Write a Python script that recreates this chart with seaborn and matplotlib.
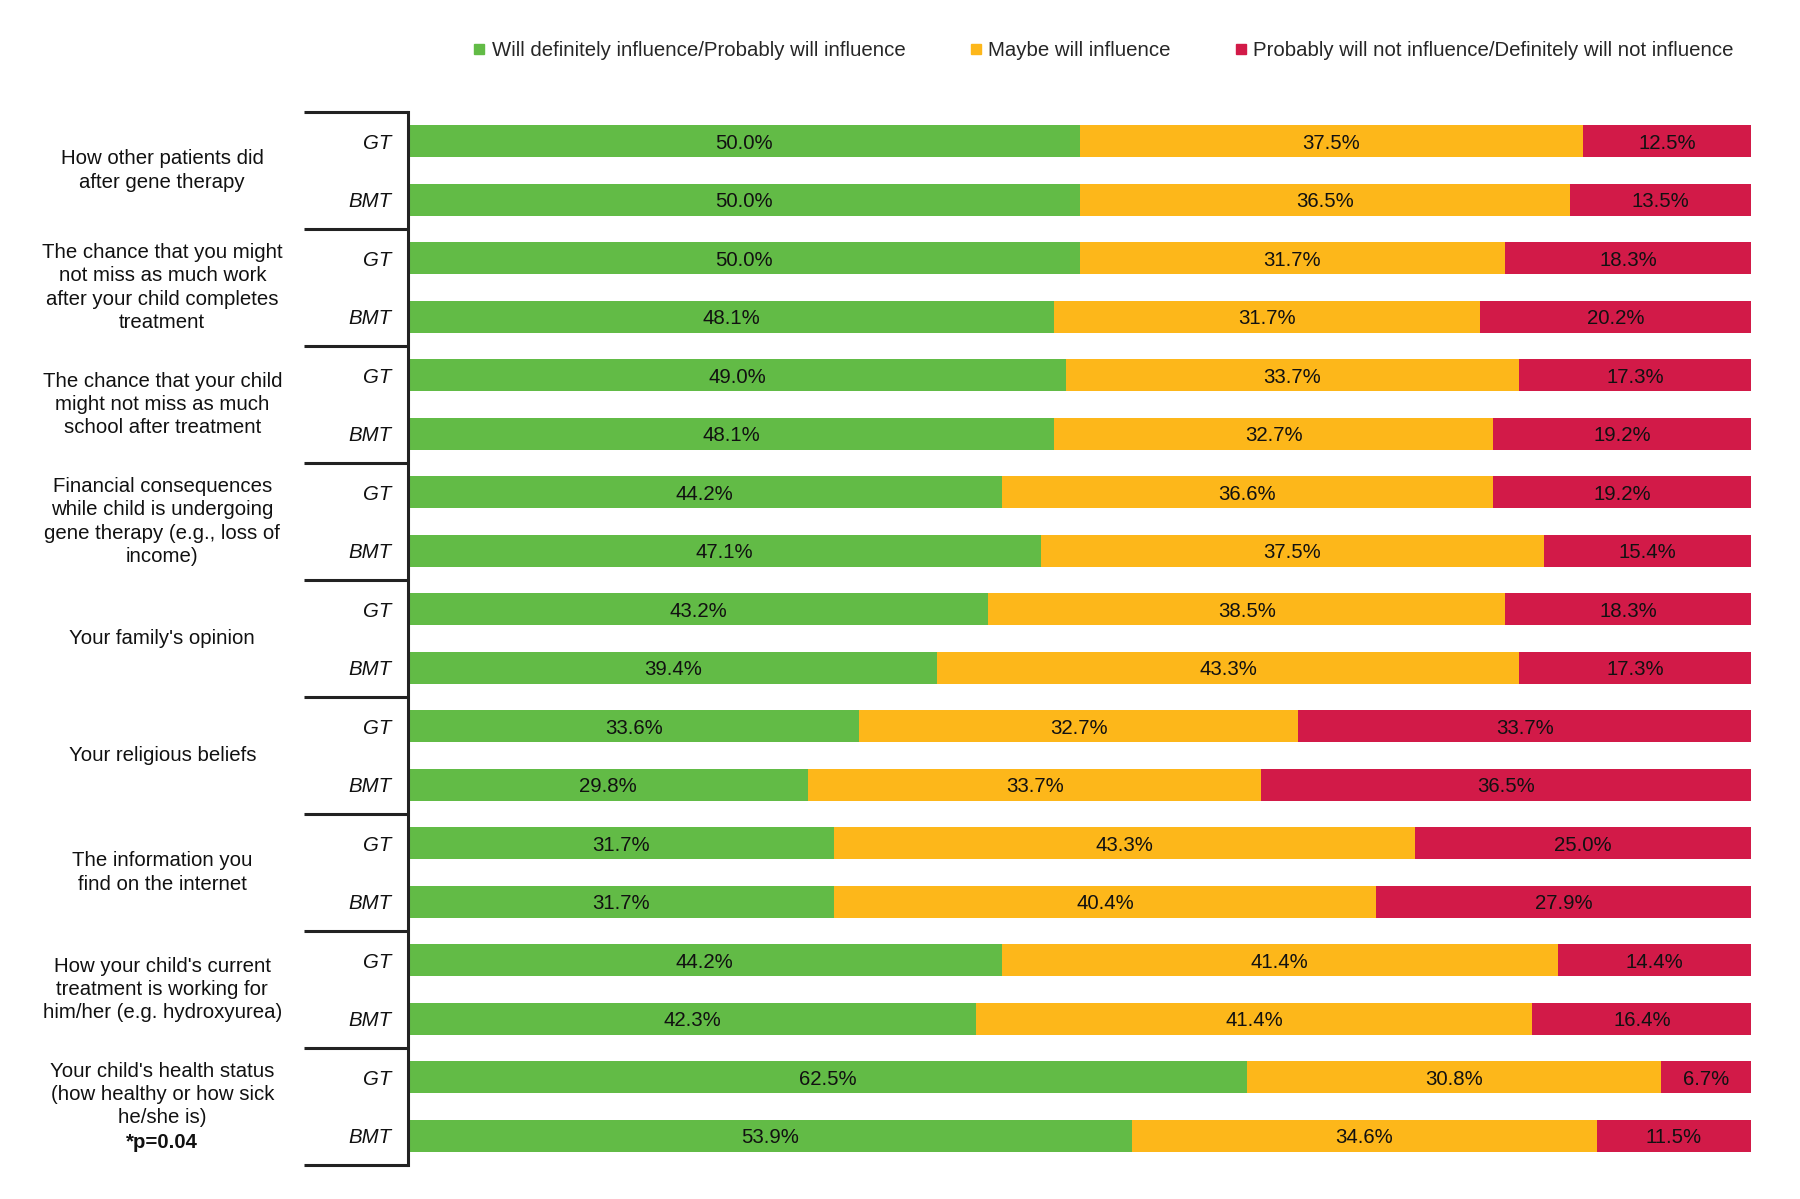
import pandas as pd
import matplotlib
matplotlib.use("Agg")
import matplotlib.pyplot as plt
import matplotlib.transforms as mtransforms
from matplotlib.lines import Line2D
import seaborn as sns

categories = [
    "How other patients did\nafter gene therapy",
    "The chance that you might\nnot miss as much work\nafter your child completes\ntreatment",
    "The chance that your child\nmight not miss as much\nschool after treatment",
    "Financial consequences\nwhile child is undergoing\ngene therapy (e.g., loss of\nincome)",
    "Your family's opinion",
    "Your religious beliefs",
    "The information you\nfind on the internet",
    "How your child's current\ntreatment is working for\nhim/her (e.g. hydroxyurea)",
    "Your child's health status\n(how healthy or how sick\nhe/she is)",
]
note_last = "*p=0.04"
treatments = ["GT", "BMT"]

will_gt = [50.0, 50.0, 49.0, 44.2, 43.2, 33.6, 31.7, 44.2, 62.5]
will_bmt = [50.0, 48.1, 48.1, 47.1, 39.4, 29.8, 31.7, 42.3, 53.9]
maybe_gt = [37.5, 31.7, 33.7, 36.6, 38.5, 32.7, 43.3, 41.4, 30.8]
maybe_bmt = [36.5, 31.7, 32.7, 37.5, 43.3, 33.7, 40.4, 41.4, 34.6]
not_gt = [12.5, 18.3, 17.3, 19.2, 18.3, 33.7, 25.0, 14.4, 6.7]
not_bmt = [13.5, 20.2, 19.2, 15.4, 17.3, 36.5, 27.9, 16.4, 11.5]

legend_labels = ["Will definitely influence/Probably will influence",
                 "Maybe will influence",
                 "Probably will not influence/Definitely will not influence"]
colors = ["#62BB46", "#FDB71A", "#D21A48"]

# long table, one row per bar
rows = []
for i, cat in enumerate(categories):
    for t, w, m, n in [("GT", will_gt[i], maybe_gt[i], not_gt[i]),
                       ("BMT", will_bmt[i], maybe_bmt[i], not_bmt[i])]:
        rows.append(dict(row=f"{i}_{t}", group=i, treatment=t, will=w, maybe=m, notinf=n))
df = pd.DataFrame(rows)
df["c1"] = df["will"]
df["c2"] = df["will"] + df["maybe"]
df["c3"] = df["c2"] + df["notinf"]
order = list(df["row"])

sns.set_theme(style="white")
plt.rcParams["font.family"] = ["Liberation Sans", "DejaVu Sans"]
FS = 14.7

fig = plt.figure(figsize=(18, 11.99), dpi=100)
ax = fig.add_axes([0.2267, 0.0284, 0.7461, 0.8782])

for col, c in zip(["c3", "c2", "c1"], colors[::-1]):
    sns.barplot(data=df, x=col, y="row", order=order, orient="h", color=c,
                width=0.55, saturation=1, errorbar=None, linewidth=0, ax=ax)

# segment labels
for k, r in df.iterrows():
    starts = [0, r["c1"], r["c2"]]
    for s, v in zip(starts, [r["will"], r["maybe"], r["notinf"]]):
        ax.text(s + v / 2, k, f"{v:.1f}%", ha="center", va="center_baseline",
                fontsize=FS, color="#111111")

ax.set_xlim(0, 100)
ax.set_ylim(len(order) - 0.5, -0.5)
ax.set_xlabel("")
ax.set_ylabel("")
ax.set_xticks([])
ax.set_yticks(range(len(order)))
ax.set_yticklabels(df["treatment"], fontsize=FS, style="italic", color="#111111")
ax.tick_params(axis="y", length=0, pad=12)
for s in ["top", "right", "bottom"]:
    ax.spines[s].set_visible(False)
ax.spines["left"].set_color("#222222")
ax.spines["left"].set_linewidth(2.2)

# group bracket lines
trans = mtransforms.blended_transform_factory(ax.transAxes, ax.transData)
for g in range(len(categories) + 1):
    y = 2 * g - 0.5
    ax.plot([-0.0774, 0], [y, y], transform=trans, color="#222222", lw=2.2,
            clip_on=False, solid_capstyle="butt")

# group labels
for i, cat in enumerate(categories):
    ymid = 2 * i + 0.5
    if i == len(categories) - 1:
        ax.annotate(cat, xy=(-0.183, ymid), xycoords=trans, xytext=(0, 8.6),
                    textcoords="offset points", ha="center", va="center",
                    fontsize=FS, linespacing=1.28, color="#111111")
        ax.annotate(note_last, xy=(-0.183, ymid), xycoords=trans, xytext=(0, -25.7),
                    textcoords="offset points", ha="center", va="center",
                    fontsize=FS, fontweight="bold", color="#111111")
    else:
        ax.text(-0.183, ymid, cat, transform=trans, ha="center", va="center",
                fontsize=FS, linespacing=1.28, color="#111111")

handles = [Line2D([], [], marker="s", linestyle="", markersize=7, color=c) for c in colors]
fig.legend(handles, legend_labels, loc="center", bbox_to_anchor=(0.613, 0.958), ncol=3,
           frameon=False, fontsize=FS, handlelength=0.6, handletextpad=0.3,
           columnspacing=3.15)

fig.savefig("out.png", dpi=100)
